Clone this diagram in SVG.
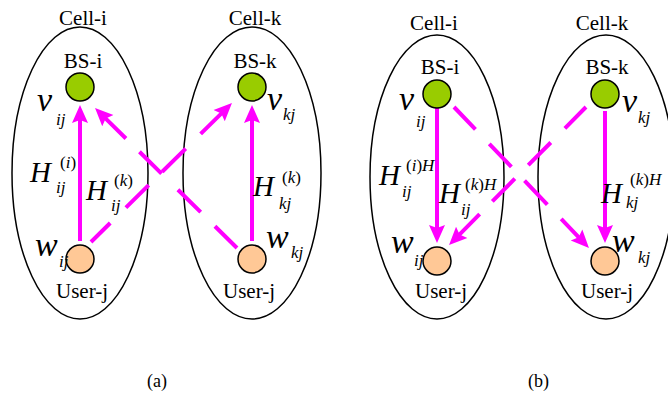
<svg xmlns="http://www.w3.org/2000/svg" width="668" height="396" viewBox="0 0 668 396">
<defs>
<style>
.cell{fill:none;stroke:#000;stroke-width:1.5}
.bs{fill:#99CC00;stroke:#000;stroke-width:1.5}
.ue{fill:#FFC896;stroke:#000;stroke-width:1.5}
text{font-family:'Liberation Serif','DejaVu Serif',serif;fill:#000}
.t{font-size:21px}
.m{font-style:italic}
.big{font-size:34px}
.h{font-size:29px}
.s{font-size:17px}
.up{font-style:normal}
.cap{font-size:18px}
.a{stroke:#FF00FF;stroke-width:4;fill:none;marker-end:url(#ah)}
</style>
<marker id="ah" markerUnits="userSpaceOnUse" markerWidth="20" markerHeight="18" viewBox="0 -9 20 18" refX="4" refY="0" orient="auto">
<path d="M0,-8 L18,0 L0,8 L3,0 z" fill="#FF00FF"/>
</marker>
</defs>

<g id="panel-a">
<g id="cell-i-a"><ellipse class="cell" cx="80" cy="173" rx="68" ry="146"/><text class="t" x="83" y="25" text-anchor="middle">Cell-i</text></g>
<g id="cell-k-a"><ellipse class="cell" cx="252" cy="173" rx="69" ry="146"/><text class="t" x="255" y="25" text-anchor="middle">Cell-k</text></g>
<g id="connectors-a">
<path class="a" d="M80,241 L80,119"/>
<path class="a" d="M252,241 L252,119"/>
<path class="a" d="M91,242 L222,112.8" stroke-dasharray="27 22 32 19 33 21 60"/>
<path class="a" d="M237,248 L105,117.8" stroke-dasharray="31 20 32 23 31 19 60"/>
</g>
<g id="bs-i-a"><circle class="bs" cx="80" cy="87" r="14"/><text class="t" x="83" y="68" text-anchor="middle">BS-i</text></g>
<g id="bs-k-a"><circle class="bs" cx="252" cy="87" r="14"/><text class="t" x="255" y="68" text-anchor="middle">BS-k</text></g>
<g id="user-i-a"><circle class="ue" cx="80" cy="259" r="14"/><text class="t" x="82" y="298" text-anchor="middle">User-j</text></g>
<g id="user-k-a"><circle class="ue" cx="252" cy="259" r="14"/><text class="t" x="249" y="298" text-anchor="middle">User-j</text></g>
<g id="labels-a">
<text class="m big" x="37" y="111">v</text><text class="m s" x="56" y="125">ij</text>
<text class="m big" x="267" y="110">v</text><text class="m s" x="283" y="120">kj</text>
<text class="m big" x="35" y="256">w</text><text class="m s" x="59" y="267">ij</text>
<text class="m big" x="266" y="248">w</text><text class="m s" x="291" y="258">kj</text>
<text class="m h" x="30" y="182">H</text><text class="m s" x="60" y="168"><tspan class="up">(</tspan>i<tspan class="up">)</tspan></text><text class="m s" x="56" y="193">ij</text>
<text class="m h" x="86" y="200">H</text><text class="m s" x="114" y="186"><tspan class="up">(</tspan>k<tspan class="up">)</tspan></text><text class="m s" x="111" y="211">ij</text>
<text class="m h" x="253" y="196">H</text><text class="m s" x="282" y="183"><tspan class="up">(</tspan>k<tspan class="up">)</tspan></text><text class="m s" x="279" y="209">kj</text>
</g>
<text class="cap" x="147" y="387">(a)</text>
</g>

<g id="panel-b">
<g id="cell-i-b"><ellipse class="cell" cx="437" cy="177" rx="67" ry="142"/><text class="t" x="434" y="30" text-anchor="middle">Cell-i</text></g>
<g id="cell-k-b"><ellipse class="cell" cx="606" cy="177" rx="68" ry="142"/><text class="t" x="602" y="30" text-anchor="middle">Cell-k</text></g>
<g id="connectors-b">
<path class="a" d="M437,108 L437,229"/>
<path class="a" d="M605,111 L605,229"/>
<path class="a" d="M454,107 L579.3,237.9" stroke-dasharray="31 20 32 19 33 20 60"/>
<path class="a" d="M586,107 L458.9,235.1" stroke-dasharray="30 20 32 19 32 18 60"/>
</g>
<g id="bs-i-b"><circle class="bs" cx="437" cy="94" r="14"/><text class="t" x="440" y="74" text-anchor="middle">BS-i</text></g>
<g id="bs-k-b"><circle class="bs" cx="605" cy="94" r="14"/><text class="t" x="607" y="74" text-anchor="middle">BS-k</text></g>
<g id="user-i-b"><circle class="ue" cx="437" cy="261" r="14"/><text class="t" x="441" y="298" text-anchor="middle">User-j</text></g>
<g id="user-k-b"><circle class="ue" cx="605" cy="261" r="14"/><text class="t" x="607" y="298" text-anchor="middle">User-j</text></g>
<g id="labels-b">
<text class="m big" x="399" y="110">v</text><text class="m s" x="416" y="127">ij</text>
<text class="m big" x="622" y="112">v</text><text class="m s" x="638" y="123">kj</text>
<text class="m big" x="391" y="253">w</text><text class="m s" x="414" y="266">ij</text>
<text class="m big" x="612" y="252">w</text><text class="m s" x="638" y="263">kj</text>
<text class="m h" x="379" y="185">H</text><text class="m s" x="406" y="171"><tspan class="up">(</tspan>i<tspan class="up">)</tspan>H</text><text class="m s" x="402" y="197">ij</text>
<text class="m h" x="439" y="203">H</text><text class="m s" x="465" y="190"><tspan class="up">(</tspan>k<tspan class="up">)</tspan>H</text><text class="m s" x="461" y="215">ij</text>
<text class="m h" x="601" y="203">H</text><text class="m s" x="630" y="185"><tspan class="up">(</tspan>k<tspan class="up">)</tspan>H</text><text class="m s" x="626" y="208">kj</text>
</g>
<text class="cap" x="528" y="387">(b)</text>
</g>
</svg>
